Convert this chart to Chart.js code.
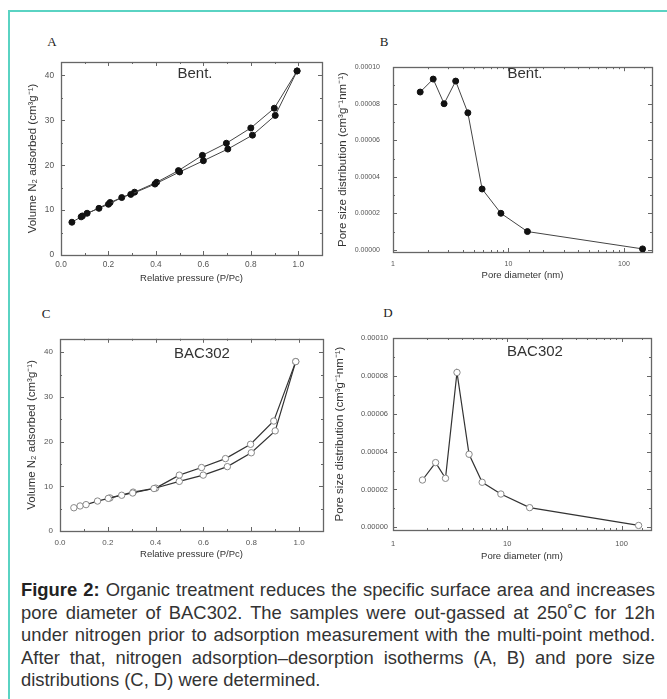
<!DOCTYPE html>
<html>
<head>
<meta charset="utf-8">
<script src="https://cdn.jsdelivr.net/npm/chart.js@4.4.0/dist/chart.umd.min.js"></script>
<style>
  body { margin:0; width:667px; height:699px; background:#fff; position:relative; overflow:hidden;
         font-family:"Liberation Sans", Arial, sans-serif; }
  .frame-top  { position:absolute; left:8px; top:10px; right:0; height:2px; background:#5ad3c3; }
  .frame-left { position:absolute; left:8px; top:10px; bottom:0; width:2px; background:#5ad3c3; }
  canvas { position:absolute; }
  .tag { position:absolute; font-family:"Liberation Serif", "Times New Roman", serif; font-size:13px; color:#222;
         transform:translate(-50%,-50%); }
  .name { position:absolute; font-size:15px; color:#333; transform:translate(-50%,-50%); white-space:nowrap; }
  .caption { position:absolute; left:21px; top:579px; width:634px; font-size:18.4px; line-height:22.5px;
             text-align:justify; color:#333; }
  .caption b { color:#222; }
</style>
</head>
<body>
<div class="frame-top"></div>
<div class="frame-left"></div>

<canvas id="chartA" width="310" height="240" style="left:20px;top:50px"></canvas>
<canvas id="chartB" width="325" height="240" style="left:335px;top:50px"></canvas>
<canvas id="chartC" width="310" height="240" style="left:20px;top:327px"></canvas>
<canvas id="chartD" width="327" height="240" style="left:333px;top:327px"></canvas>

<div class="tag" style="left:52px;top:42px">A</div>
<div class="tag" style="left:384px;top:42px">B</div>
<div class="tag" style="left:46px;top:314px">C</div>
<div class="tag" style="left:388px;top:313px">D</div>

<div class="name" style="left:195px;top:72px">Bent.</div>
<div class="name" style="left:525px;top:72px">Bent.</div>
<div class="name" style="left:202px;top:352px">BAC302</div>
<div class="name" style="left:535px;top:350px">BAC302</div>

<div class="caption"><b>Figure 2:</b> Organic treatment reduces the specific surface area and increases pore diameter of BAC302. The samples were out-gassed at 250˚C for 12h under nitrogen prior to adsorption measurement with the multi-point method. After that, nitrogen adsorption–desorption isotherms (A, B) and pore size distributions (C, D) were determined.</div>

<script>
'use strict';

// A: Bent. isotherm (relative pressure P/Po, volume cm3/g)
const bentAdsP = [0.046, 0.085, 0.11, 0.16, 0.20, 0.256, 0.294, 0.396, 0.50, 0.60, 0.703, 0.807, 0.903, 0.995];
const bentAdsV = [7.3, 8.5, 9.3, 10.4, 11.3, 12.8, 13.5, 15.8, 18.5, 21.0, 23.6, 26.7, 31.1, 41.0];
const bentDesP = [0.995, 0.899, 0.80, 0.697, 0.596, 0.495, 0.403, 0.31, 0.207, 0.09];
const bentDesV = [41.0, 32.7, 28.3, 24.9, 22.2, 18.8, 16.2, 14.0, 11.7, 8.7];

// B: Bent. pore size distribution
const bentPoreD = [1.72, 2.23, 2.77, 3.49, 4.45, 5.91, 8.6, 14.6, 145];
const bentPoreV = [0.0000864, 0.0000935, 0.0000800, 0.0000924, 0.0000750, 0.0000333, 0.0000200, 0.0000100, 0.0000005];

// C: BAC302 isotherm
const bacAdsP = [0.058, 0.084, 0.109, 0.157, 0.202, 0.258, 0.304, 0.393, 0.499, 0.599, 0.70, 0.80, 0.90, 0.986];
const bacAdsV = [5.2, 5.6, 5.9, 6.7, 7.3, 8.0, 8.5, 9.5, 11.1, 12.5, 14.4, 17.5, 22.4, 37.9];
const bacDesP = [0.986, 0.894, 0.797, 0.692, 0.592, 0.499, 0.40, 0.306, 0.209];
const bacDesV = [37.9, 24.6, 19.4, 16.2, 14.2, 12.5, 9.6, 8.7, 7.4];

// D: BAC302 pore size distribution
const bacPoreD = [1.81, 2.36, 2.88, 3.63, 4.63, 6.03, 8.79, 15.7, 141];
const bacPoreV = [0.0000250, 0.0000342, 0.0000259, 0.0000818, 0.0000386, 0.0000238, 0.0000176, 0.0000104, 0.0000010];

// labelled (major) ticks
const pressureTicks = [0, 0.2, 0.4, 0.6, 0.8, 1.0];
const volumeTicks   = [0, 10, 20, 30, 40];
const diameterTicks = [1, 10, 100];
const psdTicks      = [0, 0.00002, 0.00004, 0.00006, 0.00008, 0.0001];

Chart.defaults.font.family = '"Liberation Sans", Arial, sans-serif';

const inList = (v, list) => list.some(t => Math.abs(t - v) < 1e-12 + Math.abs(t) * 1e-6);
const tickLabel = (v, list, digits) => inList(v, list) ? (digits == null ? String(v) : Number(v).toFixed(digits)) : '';
const pts = (xs, ys) => xs.map((x, i) => ({ x, y: ys[i] }));

// Origin-style box with inward ticks on all four sides
const originFrame = {
  id: 'originFrame',
  beforeDatasetsDraw(chart, args, opts) {
    const { ctx, chartArea: a } = chart;
    const xs = chart.scales.x, ys = chart.scales.y;
    ctx.save();
    ctx.strokeStyle = '#666';
    ctx.lineWidth = 1;
    ctx.beginPath();
    xs.ticks.forEach(t => {
      if (t.value <= xs.min || t.value >= xs.max) return;
      const px = Math.round(xs.getPixelForValue(t.value)) + 0.5;
      const len = inList(t.value, opts.xMajor) ? 4 : 2;
      ctx.moveTo(px, a.bottom); ctx.lineTo(px, a.bottom - len);
      ctx.moveTo(px, a.top);    ctx.lineTo(px, a.top + len);
    });
    ys.ticks.forEach(t => {
      if (t.value <= ys.min || t.value >= ys.max) return;
      const py = Math.round(ys.getPixelForValue(t.value)) + 0.5;
      const len = inList(t.value, opts.yMajor) ? 4 : 2;
      ctx.moveTo(a.left, py);  ctx.lineTo(a.left + len, py);
      ctx.moveTo(a.right, py); ctx.lineTo(a.right - len, py);
    });
    ctx.stroke();
    ctx.lineWidth = 1.3;
    ctx.strokeRect(Math.round(a.left) + 0.5, Math.round(a.top) + 0.5,
                   Math.round(a.right - a.left), Math.round(a.bottom - a.top));
    ctx.restore();
  }
};

function axis(o) {
  const ax = {
    type: o.type || 'linear', min: o.min, max: o.max,
    grid: { display: false, drawTicks: false }, border: { display: false },
    ticks: {
      autoSkip: false, maxRotation: 0, padding: o.pad, color: '#555',
      font: { size: o.size }, callback: v => tickLabel(v, o.labels, o.digits)
    },
    title: { display: true, text: o.title, color: '#333', font: { size: o.tsize }, padding: o.tpad },
    afterFit: s => { if (s.isHorizontal()) s.height = o.fit; else s.width = o.fit; }
  };
  if (!o.type) { ax.ticks.stepSize = o.step; ax.ticks.includeBounds = false; }
  return ax;
}

const filled = { borderColor: '#444', borderWidth: 1, pointRadius: 3, pointBackgroundColor: '#111', pointBorderColor: '#111', pointBorderWidth: 1 };
const hollow = { borderColor: '#333', borderWidth: 1.2, pointRadius: 3.2, pointBackgroundColor: '#fff', pointBorderColor: '#888', pointBorderWidth: 1 };

function panel(id, datasets, x, y, pad, majors) {
  return new Chart(document.getElementById(id), {
    type: 'line',
    data: { datasets },
    options: {
      responsive: false, animation: false,
      layout: { padding: pad },
      plugins: { legend: { display: false }, tooltip: { enabled: false }, originFrame: majors },
      scales: { x, y }
    },
    plugins: [originFrame]
  });
}

const isoTitleY = 'Volume N\u2082 adsorbed (cm\u00b3g\u207b\u00b9)';
const psdTitleY = 'Pore size distribution (cm\u00b3g\u207b\u00b9nm\u207b\u00b9)';

panel('chartA',
  [ { data: pts(bentAdsP, bentAdsV), ...filled }, { data: pts(bentDesP, bentDesV), ...filled } ],
  axis({ min: 0, max: 1.1, step: 0.1, labels: pressureTicks, digits: 1, pad: 5, size: 8.3,
         title: 'Relative pressure (P/Pc)', tsize: 9.5, tpad: { top: 0, bottom: 6 }, fit: 35 }),
  axis({ min: 0, max: 43, step: 5, labels: volumeTicks, digits: 0, pad: 7, size: 8.3,
         title: isoTitleY, tsize: 11.5, tpad: { top: 6, bottom: 0 }, fit: 41 }),
  { top: 11, right: 8, left: 0, bottom: 0 },
  { xMajor: pressureTicks, yMajor: volumeTicks });

panel('chartB',
  [ { data: pts(bentPoreD, bentPoreV), ...filled } ],
  axis({ type: 'logarithmic', min: 1, max: 175, labels: diameterTicks, pad: 8, size: 7,
         title: 'Pore diameter (nm)', tsize: 9.5, tpad: { top: 0, bottom: 9 }, fit: 38 }),
  axis({ min: -0.0000012, max: 0.0001, step: 0.00001, labels: psdTicks, digits: 5, pad: 13, size: 7,
         title: psdTitleY, tsize: 11.5, tpad: { top: 1, bottom: 0 }, fit: 58 }),
  { top: 12, right: 5, left: 0, bottom: 0 },
  { xMajor: diameterTicks, yMajor: psdTicks });

panel('chartC',
  [ { data: pts(bacAdsP, bacAdsV), ...hollow }, { data: pts(bacDesP, bacDesV), ...hollow } ],
  axis({ min: 0, max: 1.1, step: 0.1, labels: pressureTicks, digits: 1, pad: 7, size: 8,
         title: 'Relative pressure (P/Pc)', tsize: 9.5, tpad: { top: 0, bottom: 7 }, fit: 36 }),
  axis({ min: 0, max: 43, step: 5, labels: volumeTicks, digits: 0, pad: 7, size: 8,
         title: isoTitleY, tsize: 11.5, tpad: { top: 5, bottom: 0 }, fit: 40 }),
  { top: 11, right: 7, left: 0, bottom: 0 },
  { xMajor: pressureTicks, yMajor: volumeTicks });

panel('chartD',
  [ { data: pts(bacPoreD, bacPoreV), ...hollow } ],
  axis({ type: 'logarithmic', min: 1, max: 181, labels: diameterTicks, pad: 9, size: 7.5,
         title: 'Pore diameter (nm)', tsize: 9.5, tpad: { top: 0, bottom: 5 }, fit: 37 }),
  axis({ min: -0.0000014, max: 0.0001, step: 0.00001, labels: psdTicks, digits: 5, pad: 5, size: 7.5,
         title: psdTitleY, tsize: 11.5, tpad: { top: 0, bottom: 0 }, fit: 60 }),
  { top: 11, right: 5, left: 0, bottom: 0 },
  { xMajor: diameterTicks, yMajor: psdTicks });
</script>
</body>
</html>
